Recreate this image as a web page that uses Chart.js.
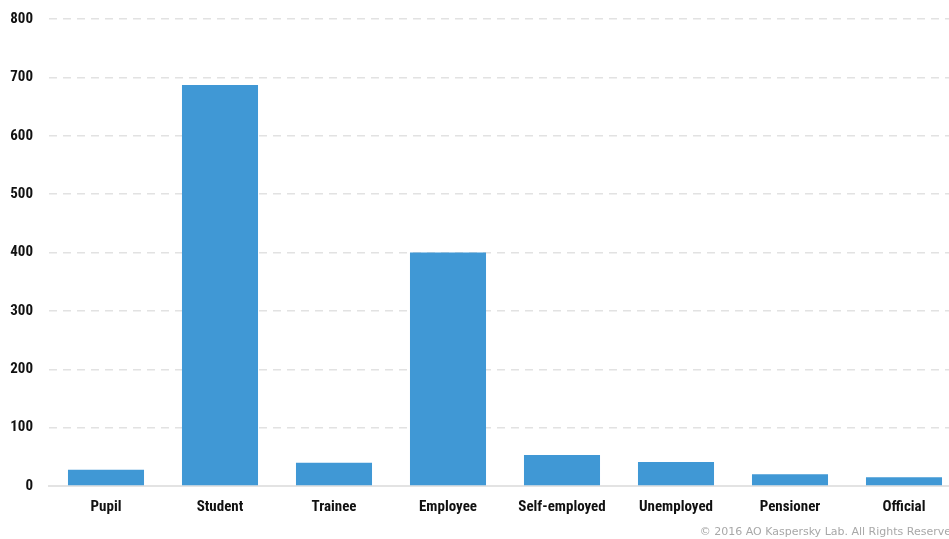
<!DOCTYPE html>
<html>
<head>
<meta charset="utf-8">
<script src="https://cdn.jsdelivr.net/npm/chart.js@4/dist/chart.umd.min.js"></script>
<style>
  html, body { margin: 0; padding: 0; background: #fff; overflow: hidden; }
  #wrap { width: 949px; height: 539px; overflow: hidden; position: relative; }
  #box { width: 961px; height: 545px; position: absolute; left: 0; top: -6px; }
</style>
</head>
<body>
<div id="wrap"><div id="box"><canvas id="c"></canvas></div></div>
<script>
const categories = ['Pupil', 'Student', 'Trainee', 'Employee', 'Self-employed', 'Unemployed', 'Pensioner', 'Official'];
const counts = [28, 687, 40, 400, 53, 41, 20, 15];
const yTicks = [0, 100, 200, 300, 400, 500, 600, 700, 800];
const credit = '\u00a9 2016 AO Kaspersky Lab. All Rights Reserved';

const labelFont = { family: '"Liberation Sans Narrow", "Roboto Condensed", "Liberation Sans", sans-serif', size: 15, weight: 'bold' };

const creditPlugin = {
  id: 'credit',
  afterDraw(chart) {
    const ctx = chart.ctx;
    ctx.save();
    ctx.font = '11px "DejaVu Sans", sans-serif';
    ctx.fillStyle = '#a8a8a8';
    ctx.textAlign = 'right';
    ctx.textBaseline = 'alphabetic';
    ctx.fillText(credit, 958, chart.height - 4);
    ctx.restore();
  }
};

new Chart(document.getElementById('c'), {
  type: 'bar',
  data: {
    labels: categories,
    datasets: [{
      data: counts,
      backgroundColor: '#4098d5',
      borderWidth: 0,
      barPercentage: 1,
      categoryPercentage: 0.667
    }]
  },
  options: {
    responsive: true,
    maintainAspectRatio: false,
    animation: false,
    layout: { padding: { top: 5, right: 0, bottom: 0, left: 0 } },
    plugins: { legend: { display: false }, tooltip: { enabled: false } },
    scales: {
      x: {
        grid: { display: false, drawTicks: false },
        border: { display: true, color: '#e3e3e3', width: 2 },
        ticks: { color: '#111', font: labelFont, padding: 12, maxRotation: 0 },
        afterFit(scale) { scale.height = 53; }
      },
      y: {
        min: 0,
        max: 800,
        afterBuildTicks(scale) { scale.ticks = yTicks.map(v => ({ value: v })); },
        grid: {
          color: (c) => c.tick && c.tick.value === 0 ? 'rgba(0,0,0,0)' : '#e2e2e2',
          lineWidth: 1.5,
          drawTicks: false
        },
        border: { display: false, dash: [8, 6] },
        ticks: { color: '#111', font: labelFont, padding: 16 },
        afterFit(scale) { scale.width = 49; }
      }
    }
  },
  plugins: [creditPlugin]
});
</script>
</body>
</html>
